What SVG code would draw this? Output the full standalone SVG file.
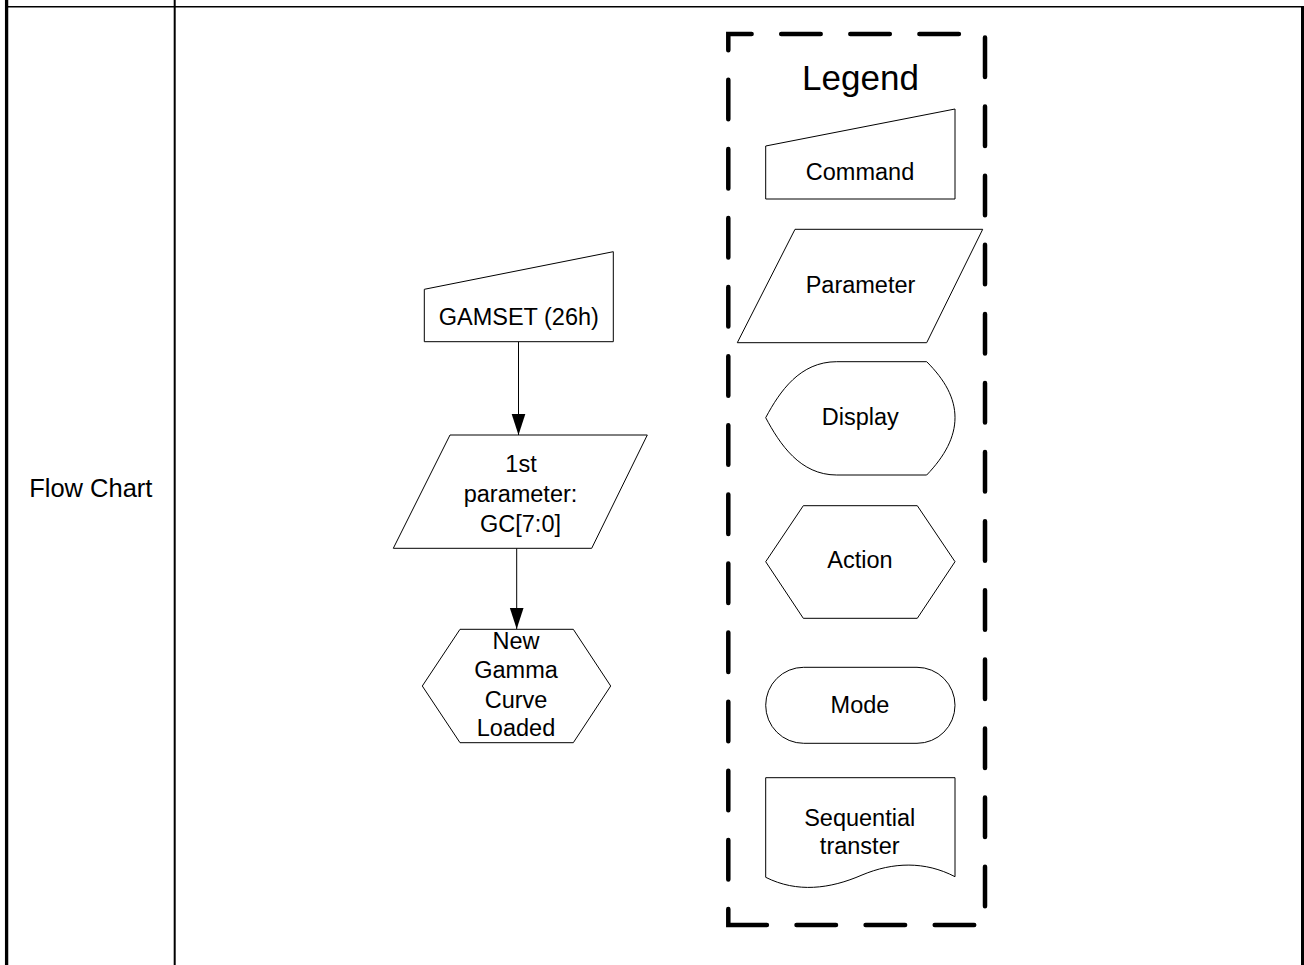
<svg xmlns="http://www.w3.org/2000/svg" width="1304" height="965" viewBox="0 0 1304 965">
<style>
.shape{fill:#fff;stroke:#000;stroke-width:1}
.t{font-family:"Liberation Sans",Arial,sans-serif;font-size:23.5px;fill:#000;text-anchor:middle}
.tbl{stroke:#000;fill:none}
.conn{stroke:#000;stroke-width:1;fill:none}
</style>
<defs>
<marker id="arr" markerWidth="22" markerHeight="15" refX="21.5" refY="7" orient="auto" markerUnits="userSpaceOnUse">
<path d="M0,0 L21.5,7 L0,14 Z" fill="#000"/>
</marker>
</defs>
<rect width="1304" height="965" fill="#fff"/>
<g id="table">
<line class="tbl" x1="8" y1="6.7" x2="1304" y2="6.7" stroke-width="1.5"/>
<line class="tbl" x1="6.6" y1="0" x2="6.6" y2="965" stroke-width="3.3"/>
<line class="tbl" x1="174.7" y1="0" x2="174.7" y2="965" stroke-width="2"/>
<line class="tbl" x1="1302.5" y1="6" x2="1302.5" y2="965" stroke-width="3"/>
<text class="t" x="90.8" y="496.7" style="font-size:25.5px">Flow Chart</text>
</g>
<g id="legend-border">
<path d="M728.3,925 L728.3,34 L985,34 L985,925 Z" fill="none" stroke="#000" stroke-width="4.5" stroke-linecap="round" stroke-dasharray="39.5 29.6" stroke-dashoffset="23.5"/>
<text class="t" x="860.5" y="90" style="font-size:35px">Legend</text>
</g>
<g id="connectors">
<line class="conn" x1="518.5" y1="341.7" x2="518.5" y2="435" marker-end="url(#arr)"/>
<line class="conn" x1="516.7" y1="548.3" x2="516.7" y2="629" marker-end="url(#arr)"/>
</g>
<g id="gamset">
<path class="shape" d="M424.3,289.3 L613.3,251.7 L613.3,341.7 L424.3,341.7 Z"/>
<text class="t" x="518.8" y="325">GAMSET (26h)</text>
</g>
<g id="param1">
<path class="shape" d="M450,435 L647.3,435 L591.7,548.3 L393.3,548.3 Z"/>
<text class="t" x="521" y="471.7">1st</text>
<text class="t" x="520.5" y="501.7">parameter:</text>
<text class="t" x="520.5" y="531.7">GC[7:0]</text>
</g>
<g id="gamma-loaded">
<path class="shape" d="M460,629.3 L573.3,629.3 L610.7,686 L573.3,742.7 L460,742.7 L422.3,686 Z"/>
<text class="t" x="516" y="649.3">New</text>
<text class="t" x="516" y="678.3">Gamma</text>
<text class="t" x="516" y="707.5">Curve</text>
<text class="t" x="516" y="736">Loaded</text>
</g>
<g id="legend-command">
<path class="shape" d="M765.7,146 L955,109 L955,199 L765.7,199 Z"/>
<text class="t" x="860" y="180">Command</text>
</g>
<g id="legend-parameter">
<path class="shape" d="M795,229.3 L982.7,229.3 L926.7,342.7 L737.3,342.7 Z"/>
<text class="t" x="860.5" y="292.7">Parameter</text>
</g>
<g id="legend-display">
<path class="shape" d="M836.7,361.7 L926.7,361.7 C945,380 955,398 955,417.7 C955,437 945,456 926.7,475 L836.7,475 C800,475 779.8,444 765.7,417.7 C779.8,391.3 800,361.7 836.7,361.7 Z"/>
<text class="t" x="860.3" y="425">Display</text>
</g>
<g id="legend-action">
<path class="shape" d="M803.3,505.7 L917.3,505.7 L955,561.7 L917.3,618.3 L803.3,618.3 L765.7,561.7 Z"/>
<text class="t" x="860" y="568.3">Action</text>
</g>
<g id="legend-mode">
<rect class="shape" x="765.7" y="667.3" width="189.3" height="76" rx="38" ry="38"/>
<text class="t" x="860" y="712.7">Mode</text>
</g>
<g id="legend-sequential">
<path class="shape" d="M765.7,777.7 L955,777.7 L955,876.7 C925,861 893,862 862,875 C830,889 797,893 765.7,877.3 Z"/>
<text class="t" x="859.7" y="826">Sequential</text>
<text class="t" x="859.7" y="854">transter</text>
</g>
</svg>
